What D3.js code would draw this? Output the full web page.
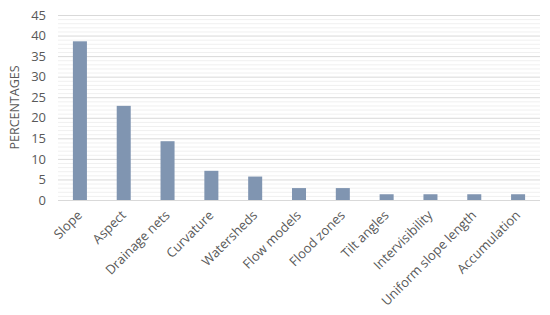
<!DOCTYPE html>
<html>
<head>
<meta charset="utf-8">
<script src="https://cdn.jsdelivr.net/npm/d3@7"></script>
<style>
  body { margin: 0; background: #fff; }
  svg text { font-family: "Open Sans", "Liberation Sans", sans-serif; fill: #595959; }
</style>
</head>
<body>
<div id="chart"></div>
<script>
// Catégories et pourcentages
const categories = [
  "Slope", "Aspect", "Drainage nets", "Curvature", "Watersheds",
  "Flow models", "Flood zones", "Tilt angles", "Intervisibility",
  "Uniform slope length", "Accumulation"
];
const percentages = [38.6, 22.9, 14.3, 7.1, 5.7, 2.9, 2.9, 1.4, 1.4, 1.4, 1.4];
const yTicks = [0, 5, 10, 15, 20, 25, 30, 35, 40, 45];

const width = 550;
const height = 315;
const margin = { top: 15, right: 10, bottom: 115, left: 58 };

const data = categories.map((c, i) => ({ cat: c, value: percentages[i] }));

const svg = d3.select("#chart")
  .append("svg")
  .attr("width", width)
  .attr("height", height);

const x = d3.scaleBand()
  .domain(categories)
  .range([margin.left, width - margin.right])
  .paddingInner(0.68)
  .paddingOuter(0.34);

const y = d3.scaleLinear()
  .domain([0, 45])
  .range([height - margin.bottom, margin.top]);

// Grille mineure (chaque unité)
svg.append("g")
  .selectAll("line")
  .data(d3.range(1, 45).filter(v => v % 5 !== 0))
  .join("line")
  .attr("x1", margin.left)
  .attr("x2", width - margin.right)
  .attr("y1", d => y(d) + 0.5)
  .attr("y2", d => y(d) + 0.5)
  .attr("stroke", "#f0f0f0")
  .attr("stroke-width", 1);

// Grille principale
svg.append("g")
  .selectAll("line")
  .data(yTicks)
  .join("line")
  .attr("x1", margin.left)
  .attr("x2", width - margin.right)
  .attr("y1", d => y(d) + 0.5)
  .attr("y2", d => y(d) + 0.5)
  .attr("stroke", "#d9d9d9")
  .attr("stroke-width", 1);

// Barres
svg.append("g")
  .selectAll("rect")
  .data(data)
  .join("rect")
  .attr("x", d => x(d.cat))
  .attr("width", x.bandwidth())
  .attr("y", d => y(d.value))
  .attr("height", d => y(0) - y(d.value))
  .attr("fill", "#8095b1");

// Axe Y
const yAxis = svg.append("g")
  .attr("transform", `translate(${margin.left - 12},0)`)
  .call(d3.axisLeft(y).tickValues(yTicks).tickSize(0).tickPadding(0));
yAxis.select(".domain").remove();
yAxis.selectAll("text")
  .style("font-size", "13px")
  .attr("fill", "#595959");

// Axe X (libellés inclinés)
const xAxis = svg.append("g")
  .attr("transform", `translate(0,${y(0)})`)
  .call(d3.axisBottom(x).tickSize(0).tickPadding(0));
xAxis.select(".domain").remove();
xAxis.selectAll("text")
  .style("font-size", "13px")
  .attr("fill", "#595959")
  .attr("text-anchor", "end")
  .attr("dy", null)
  .attr("y", 0)
  .attr("transform", "translate(3,16) rotate(-45)");

// Titre de l'axe Y
svg.append("text")
  .attr("transform", `translate(19,${(y(0) + y(45)) / 2}) rotate(-90)`)
  .attr("text-anchor", "middle")
  .style("font-size", "12.5px")
  .text("PERCENTAGES");
</script>
</body>
</html>
